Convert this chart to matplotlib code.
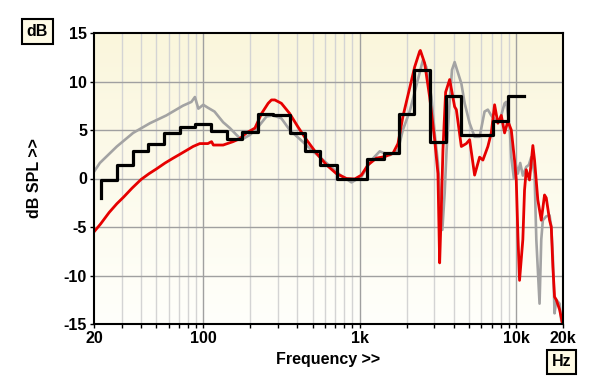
import matplotlib.pyplot as plt
import numpy as np
from matplotlib.colors import LinearSegmentedColormap

plt.rcParams['font.family'] = ['Liberation Sans', 'DejaVu Sans']
plt.rcParams['axes.unicode_minus'] = False

# grey curve
grey_f = [20, 21.8, 28, 35.6, 45.6, 58, 74, 84, 88.4, 93, 100, 107, 118, 134, 148,
          163, 176, 199, 224, 254, 281, 316, 357, 412, 504, 614, 746, 887, 1030,
          1190, 1345, 1557, 1760, 1890, 2090, 2300, 2540, 2670, 2880, 3020, 3170,
          3383, 3500, 3600, 3770, 3900, 4054, 4200, 4474, 4700, 5055, 5440, 5856,
          6300, 6610, 6950, 7400, 7860, 8460, 8670, 9110, 9340, 9700, 10000, 10280,
          10650, 11070, 11640, 12090, 12520, 13150, 13500, 14160, 14520, 14860,
          15630, 16410, 16830, 17230, 17660, 18110, 19010, 19470, 20000]
grey_db = [0.7, 1.6, 3.3, 4.7, 5.7, 6.5, 7.5, 7.9, 8.4, 7.2, 7.6, 7.3, 6.9, 5.8, 5.2,
           4.5, 4.0, 4.5, 5.3, 6.4, 6.5, 6.2, 5.0, 4.1, 2.8, 1.6, 0.4, -0.4, 0.2,
           1.9, 2.8, 2.4, 2.9, 5.0, 6.9, 9.5, 12.2, 11.5, 8.4, 4.7, 1.6,
           -5.3, -1.5, 2.9, 8.0, 11.2, 12.0, 11.2, 9.8, 7.75, 5.7, 4.3, 4.3,
           6.9, 7.1, 6.5, 6.0, 5.9, 7.75, 7.9, 5.3, 2.2, 0.0, 1.4, 0.5,
           1.6, 0.3, 1.2, 1.4, 2.2, 0.5, -6.3, -12.9, -6.3, -4.3,
           -3.9, -3.8, -5.0, -8.1, -13.9, -12.5, -12.9, -14.6, -15.2]

# red curve
red_f = [20, 22, 25, 28, 31, 35, 40, 45, 50.3, 57, 64.2, 70.9, 82, 86, 95, 100, 107,
         113, 116, 134, 155, 171, 189, 214, 236, 260, 273, 287, 316, 357, 404, 457,
         530, 614, 711, 824, 931, 1027, 1131, 1281, 1447, 1635, 1760, 1893, 2089,
         2250, 2421, 2447, 2606, 2806, 3021, 3170, 3251, 3334, 3413, 3550, 3767,
         4054, 4157, 4474, 4815, 5055, 5440, 5856, 6146, 6614, 6955, 7301, 7666,
         8057, 8460, 8881, 9337, 9795, 10047, 10300, 10545, 11070, 11350, 11640,
         12210, 12830, 13150, 13800, 14520, 15240, 15630, 16410, 16830, 17230,
         17660, 18110, 19010, 20000]
red_db = [-5.5, -4.7, -3.5, -2.6, -1.9, -1.0, -0.1, 0.5, 1.0, 1.6, 2.1, 2.5, 3.1, 3.3,
          3.6, 3.6, 3.6, 3.8, 3.45, 3.45, 3.8, 4.1, 4.7, 5.2, 6.7, 7.75, 8.1, 8.1,
          7.75, 6.7, 5.3, 4.0, 2.6, 1.4, 0.5, 0.0, -0.05, 0.35, 1.4, 2.1, 2.25, 2.6,
          3.6, 6.4, 9.3, 11.5, 13.1, 13.2, 11.9, 8.4, 4.0, 0.5, -8.7, -3.0, 3.0, 8.9,
          10.2, 7.4, 7.1, 3.3, 3.6, 4.0, 0.35, 2.2, 1.9, 3.3, 4.7, 7.6, 5.7,
          6.5, 4.7, 5.9, 5.0, 1.9, -0.15, -6.0, -10.5, -6.3, -1.2, 0.9,
          -0.15, 3.4, 1.9, -2.2, -4.3, -1.7, -2.0, -4.3, -5.0, -9.1,
          -12.2, -12.5, -13.5, -15.2]

# black 1/3-octave steps
band_centres = [25, 31.5, 40, 50, 63, 80, 100, 125, 160, 200, 250, 315, 400, 500,
                630, 800, 1000, 1250, 1600, 2000, 2500, 3150, 4000, 5000, 6300,
                8000, 10000]
band_db = [-0.2, 1.4, 2.8, 3.6, 4.7, 5.3, 5.6, 4.9, 4.1, 4.8, 6.7, 6.5, 4.7, 2.8,
           1.4, 0.0, -0.1, 2.0, 2.6, 6.6, 11.2, 3.8, 8.5, 4.5, 4.5, 5.9, 8.5]
band_start = -2.0

x_ticks = [20, 100, 1000, 10000, 20000]
x_labels = ['20', '100', '1k', '10k', '20k']
y_ticks = [-15, -10, -5, 0, 5, 10, 15]

fig = plt.figure(figsize=(6, 3.87), dpi=100)
ax = fig.add_axes([94 / 600, 1 - 324 / 387, 469 / 600, 291 / 387])

# cream gradient background
cmap = LinearSegmentedColormap.from_list('cream', ['#fffffb', '#faf6dc'])
ax.imshow(np.linspace(0, 1, 100)[:, None], extent=(0, 1, 0, 1), origin='lower',
          transform=ax.transAxes, cmap=cmap, aspect='auto', zorder=0)

ax.set_xscale('log')
ax.set_xlim(20, 20000)
ax.set_ylim(-15, 15)

minor = [m * d for d in (10, 100, 1000) for m in range(2, 10) if 20 < m * d < 20000]
for f in minor:
    ax.axvline(f, color='#d4d4d4', lw=1, zorder=1)
for f in (100, 1000, 10000):
    ax.axvline(f, color='#a0a0a0', lw=1, zorder=1)
for v in (-10, -5, 0, 5, 10):
    ax.axhline(v, color='#a0a0a0', lw=1, zorder=1)

ax.plot(grey_f, grey_db, color='#a3a3a3', lw=1.9, zorder=3)
ax.plot(red_f, red_db, color='#e60000', lw=2.0, zorder=4)

centres = np.array(band_centres, dtype=float)
edges = list(centres / 2 ** (1 / 6)) + [centres[-1] * 2 ** (1 / 6)]
sx = [edges[0]] + edges
sy = [band_start] + band_db + [band_db[-1]]
ax.step(sx, sy, where='post', color='black', lw=2.3, zorder=5)

ax.set_xticks(x_ticks)
ax.set_xticklabels(x_labels, fontweight='bold', fontsize=11.5)
ax.set_xticks(minor, minor=True)
ax.xaxis.set_minor_formatter(plt.NullFormatter())
ax.set_yticks(y_ticks)
ax.set_yticklabels([str(v) for v in y_ticks], fontweight='bold', fontsize=11.5)
ax.tick_params(axis='both', which='both', direction='out', length=3, width=1, pad=2)

for s in ax.spines.values():
    s.set_linewidth(1.5)
    s.set_zorder(6)

ax.set_xlabel('Frequency >>', fontweight='bold', fontsize=11.5)
ax.xaxis.set_label_coords(0.5, -0.095)
ax.set_ylabel('dB SPL >>', fontweight='bold', fontsize=11.5)
ax.yaxis.set_label_coords(-0.11, 0.5)

box = dict(boxstyle='square,pad=0.3', facecolor='#fffbe6', edgecolor='black', lw=1.5)
fig.text(37.5 / 600, 1 - 31.5 / 387, 'dB', ha='center', va='center', fontsize=11.5,
         fontweight='bold', bbox=box)
fig.text(561.5 / 600, 1 - 362 / 387, 'Hz', ha='center', va='center', fontsize=11.5,
         fontweight='bold', bbox=box)

fig.savefig('out.png', dpi=100, facecolor='white')
